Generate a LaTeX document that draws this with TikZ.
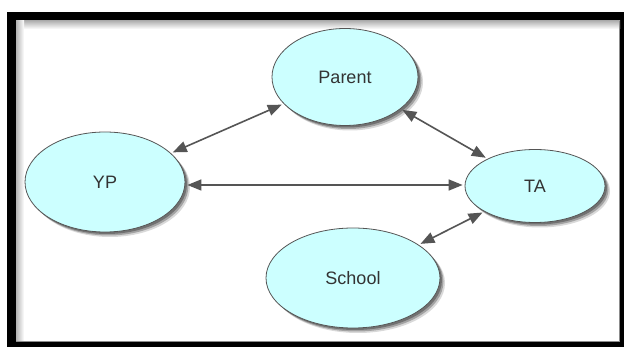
\documentclass[tikz,border=0pt]{standalone}
\usepackage{fontspec}
\setmainfont{Liberation Sans}
\usetikzlibrary{shapes.geometric,arrows.meta,shadows}
\definecolor{bubblefill}{HTML}{CCFFFF}
\definecolor{inkgray}{HTML}{555555}
\begin{document}
\begin{tikzpicture}[x=1pt,y=-1pt,
  softshade/.style={
    drop shadow={shadow xshift=5pt,shadow yshift=-5pt,fill=black,opacity=0.15},
    drop shadow={shadow xshift=3.5pt,shadow yshift=-3.5pt,fill=black,opacity=0.25},
    drop shadow={shadow xshift=2pt,shadow yshift=-2pt,fill=black,opacity=0.3}},
  bubble/.style={ellipse, draw=inkgray, line width=0.8pt, fill=bubblefill,
    text=black!80, font=\fontsize{18}{20}\selectfont, inner sep=0pt, softshade},
  link/.style={draw=inkgray, line width=1.6pt, {Triangle[length=14pt,width=11pt]}-{Triangle[length=14pt,width=11pt]},
    shorten <=2pt, shorten >=2pt}]
\useasboundingbox (0,0) rectangle (624,347);
% frame
\fill[white] (0,0) rectangle (624,347);
\fill[black] (7,12) rectangle (624,347);
\fill[white] (16,21) rectangle (620,342);
\shade[top color=black!30, bottom color=white] (16,21) rectangle (620,29);
\shade[left color=black!30, right color=white] (16,21) rectangle (24,342);
\draw[black!45, line width=1pt] (619.5,21) -- (619.5,341.5) -- (16,341.5);
% nodes
\node[bubble, minimum width=146pt, minimum height=97pt] (parent) at (345,77) {Parent};
\node[bubble, minimum width=160pt, minimum height=100pt] (yp) at (105,182) {YP};
\node[bubble, minimum width=140pt, minimum height=73pt] (ta) at (535,186) {TA};
\node[bubble, minimum width=174pt, minimum height=100pt] (school) at (353,278) {School};
% connectors
\draw[link] (yp) -- (parent);
\draw[link] (parent) -- (ta);
\draw[link] ([yshift=-3pt]yp.east) -- ([yshift=1pt]ta.west);
\draw[link] (school) -- (ta);
\end{tikzpicture}
\end{document}
